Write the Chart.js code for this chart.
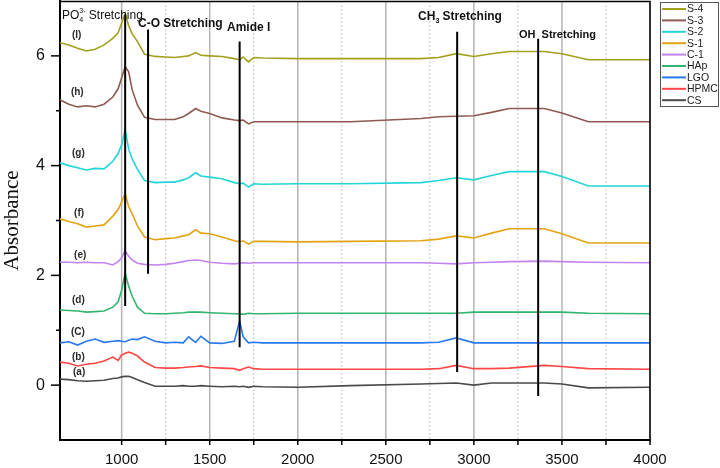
<!DOCTYPE html>
<html>
<head>
<meta charset="utf-8">
<script src="https://cdn.jsdelivr.net/npm/chart.js@4"></script>
<style>
html,body{margin:0;padding:0;background:#fff;}
canvas{display:block;}
</style>
</head>
<body>
<canvas id="c" width="720" height="468"></canvas>
<script>
// Wavenumber grid (cm-1)
const wavenumbers = [650,700,750,800,850,900,950,980,1000,1020,1040,1060,1090,1130,1190,1250,1300,1350,1380,1420,1450,1500,1570,1640,1670,1690,1720,1750,1800,2000,2300,2700,2800,2900,3000,3100,3200,3400,3500,3650,4000];

const seriesNames = ['S-4','S-3','S-2','S-1','C-1','HAp','LGO','HPMC','CS'];
const seriesColors = ['#a3a01e','#8e5a52','#22d6d8','#e2a412','#c184f0','#34b46e','#2a78ee','#ff4646','#4a4a4a'];

const s4   = [6.24,6.20,6.14,6.09,6.12,6.20,6.32,6.42,6.60,6.77,6.55,6.40,6.26,6.03,5.99,5.98,5.97,5.99,6.00,6.06,6.01,6.00,5.99,5.95,5.93,5.98,5.89,5.97,5.96,5.95,5.95,5.95,5.97,6.04,5.99,6.04,6.08,6.08,6.04,5.93,5.93];
const s3   = [5.20,5.12,5.07,5.09,5.07,5.12,5.25,5.40,5.60,5.80,5.71,5.38,5.10,4.88,4.84,4.84,4.84,4.89,4.95,5.04,4.99,4.95,4.87,4.83,4.82,4.83,4.76,4.80,4.80,4.80,4.80,4.86,4.89,4.90,4.91,4.97,5.04,5.04,4.96,4.80,4.80];
const s2   = [4.05,4.00,3.96,3.92,3.95,3.94,4.08,4.22,4.38,4.65,4.30,4.12,3.93,3.73,3.69,3.70,3.70,3.74,3.78,3.87,3.81,3.79,3.76,3.69,3.67,3.68,3.61,3.67,3.66,3.67,3.67,3.69,3.73,3.78,3.74,3.82,3.89,3.89,3.80,3.63,3.63];
const s1   = [3.03,2.98,2.94,2.88,2.90,2.92,3.08,3.20,3.34,3.49,3.25,3.12,2.90,2.70,2.65,2.67,2.68,2.72,2.74,2.83,2.77,2.76,2.70,2.63,2.61,2.63,2.57,2.62,2.62,2.61,2.62,2.63,2.66,2.72,2.68,2.77,2.85,2.85,2.76,2.59,2.59];
const c1   = [2.24,2.24,2.23,2.24,2.23,2.23,2.19,2.25,2.32,2.45,2.35,2.28,2.22,2.20,2.19,2.20,2.22,2.25,2.27,2.28,2.27,2.24,2.22,2.21,2.22,2.23,2.22,2.23,2.23,2.23,2.23,2.23,2.22,2.21,2.23,2.24,2.25,2.26,2.25,2.24,2.23];
const hap  = [1.37,1.36,1.35,1.33,1.34,1.35,1.42,1.52,1.73,2.04,1.80,1.62,1.42,1.31,1.30,1.30,1.31,1.32,1.33,1.33,1.33,1.32,1.31,1.30,1.30,1.29,1.31,1.30,1.30,1.31,1.31,1.31,1.31,1.31,1.33,1.33,1.33,1.33,1.33,1.31,1.30];
const lgo  = [0.77,0.79,0.73,0.80,0.84,0.78,0.80,0.81,0.80,0.79,0.82,0.84,0.83,0.88,0.80,0.77,0.78,0.77,0.88,0.78,0.89,0.77,0.76,0.80,1.17,0.88,0.77,0.78,0.77,0.77,0.77,0.77,0.78,0.86,0.77,0.77,0.77,0.77,0.77,0.77,0.77];
const hpmc = [0.42,0.40,0.35,0.38,0.40,0.44,0.51,0.45,0.55,0.58,0.60,0.58,0.53,0.42,0.32,0.31,0.31,0.32,0.33,0.34,0.35,0.32,0.31,0.30,0.27,0.30,0.33,0.30,0.29,0.29,0.29,0.29,0.30,0.36,0.30,0.30,0.31,0.36,0.34,0.30,0.29];
const cs   = [0.11,0.10,0.08,0.07,0.08,0.09,0.12,0.13,0.15,0.16,0.16,0.14,0.10,0.05,-0.02,-0.02,-0.02,-0.01,-0.02,-0.02,-0.01,-0.02,-0.03,-0.02,-0.03,-0.02,-0.04,-0.02,-0.03,-0.04,-0.01,0.02,0.03,0.04,0.00,0.04,0.04,0.04,0.02,-0.05,-0.04];
const seriesValues = [s4,s3,s2,s1,c1,hap,lgo,hpmc,cs];

// Band marker lines
const markerX      = [1020, 1150, 1670, 2905, 3365];
const markerTop    = [6.75, 6.48, 6.26, 6.44, 6.31];
const markerBottom = [1.44, 2.03, 0.69, 0.24, -0.20];

// Curve tags
const tagText = ['(I)','(h)','(g)','(f)','(e)','(d)','(C)','(b)','(a)'];
const tagX    = [718, 712, 718, 730, 730, 718, 712, 718, 724];
const tagY    = [6.37, 5.33, 4.23, 3.14, 2.37, 1.55, 0.97, 0.51, 0.24];

const xTickLabels = [1000,1500,2000,2500,3000,3500,4000];
const yTickLabels = [0,2,4,6];

const datasets = [];
markerX.forEach((x,i)=>{
  datasets.push({label:'marker'+i, data:[{x:x,y:markerTop[i]},{x:x,y:markerBottom[i]}],
    borderColor:'#000', borderWidth:2, pointRadius:0, isMarker:true});
});
seriesNames.forEach((n,k)=>{
  datasets.push({label:n, data:wavenumbers.map((x,i)=>({x:x,y:seriesValues[k][i]})),
    borderColor:seriesColors[k], borderWidth:1.6, pointRadius:0, tension:0});
});

const SANS = '"Liberation Sans", Arial, sans-serif';

const decor = {
  id:'decor',
  beforeDatasetsDraw(chart){
    const {ctx, chartArea:a, scales:{x}} = chart;
    ctx.save();
    x.ticks.forEach(t=>{
      const px = x.getPixelForValue(t.value);
      if (px <= a.left+1 || px >= a.right-1) return;
      ctx.beginPath();
      if (t.value % 500 === 0){ ctx.strokeStyle='#b4b4b4'; ctx.lineWidth=1.5; ctx.setLineDash([]); }
      else { ctx.strokeStyle='#c8c8c8'; ctx.lineWidth=1; ctx.setLineDash([2,2]); }
      ctx.moveTo(px, a.top); ctx.lineTo(px, a.bottom-1); ctx.stroke();
    });
    ctx.restore();
  },
  afterDraw(chart){
    const {ctx, chartArea:a, scales:{x,y}} = chart;
    ctx.save();
    // frame top/right
    ctx.strokeStyle='#000'; ctx.lineWidth=1.6; ctx.setLineDash([]);
    ctx.beginPath(); ctx.moveTo(a.left, a.top+0.5); ctx.lineTo(a.right, a.top+0.5); ctx.lineTo(a.right, a.bottom); ctx.stroke();
    // tick marks
    ctx.lineWidth=1.5;
    x.ticks.forEach(t=>{
      const px = x.getPixelForValue(t.value);
      if (px < a.left+2) return;
      ctx.beginPath(); ctx.moveTo(px, a.bottom); ctx.lineTo(px, a.bottom+5); ctx.stroke();
    });
    y.ticks.forEach(t=>{
      if (t.value < 0 || t.value > 6) return;
      const py = y.getPixelForValue(t.value);
      const len = (t.value % 2 === 0) ? 9 : 4;
      ctx.beginPath(); ctx.moveTo(a.left, py); ctx.lineTo(a.left-len, py); ctx.stroke();
    });
    // annotation text
    ctx.fillStyle='#111';
    ctx.textBaseline='alphabetic';
    ctx.textAlign='left';
    function run(parts, x0, ybase){
      let cx = x0;
      parts.forEach(p=>{
        ctx.font = p.font;
        ctx.fillText(p.t, cx, ybase + (p.dy||0));
        if (!p.noAdvance) cx += ctx.measureText(p.t).width;
      });
    }
    let px = x.getPixelForValue(661), py = y.getPixelForValue(6.75);
    run([{t:'PO',font:'12px '+SANS},{t:'4',font:'7px '+SANS,dy:3,noAdvance:true},{t:'3-',font:'7px '+SANS,dy:-6},{t:' Stretching',font:'12px '+SANS}], px, py+4);
    ctx.textBaseline='middle';
    ctx.font='bold 12px '+SANS;
    ctx.fillText('C-O Stretching', x.getPixelForValue(1093), y.getPixelForValue(6.59));
    ctx.fillText('Amide I', x.getPixelForValue(1598), y.getPixelForValue(6.51));
    ctx.font='bold 11px '+SANS;
    ctx.fillText('OH  Stretching', x.getPixelForValue(3256), y.getPixelForValue(6.39));
    ctx.textBaseline='alphabetic';
    px = x.getPixelForValue(2683); py = y.getPixelForValue(6.73);
    run([{t:'CH',font:'bold 12px '+SANS},{t:'3',font:'bold 7px '+SANS,dy:3},{t:' Stretching',font:'bold 12px '+SANS}], px, py+4);
    // curve tags
    ctx.textBaseline='middle';
    ctx.font='bold 10px '+SANS;
    ctx.fillStyle='#2a2a2a';
    tagText.forEach((t,i)=>ctx.fillText(t, x.getPixelForValue(tagX[i]), y.getPixelForValue(tagY[i])));
    // legend
    const lx=660, ly=2, lw=58, lh=104;
    ctx.strokeStyle='#555'; ctx.lineWidth=1;
    ctx.strokeRect(lx+0.5, ly+0.5, lw, lh);
    ctx.font='10.5px '+SANS;
    ctx.fillStyle='#222';
    chart.data.datasets.filter(d=>!d.isMarker).forEach((d,i)=>{
      const yy = ly + 7 + i*11.4;
      ctx.strokeStyle=d.borderColor; ctx.lineWidth=2;
      ctx.beginPath(); ctx.moveTo(lx+2, yy); ctx.lineTo(lx+26, yy); ctx.stroke();
      ctx.fillText(d.label, lx+27, yy+0.5);
    });
    ctx.restore();
  }
};

new Chart(document.getElementById('c'), {
  type:'line',
  data:{datasets},
  options:{
    responsive:false,
    animation:false,
    devicePixelRatio:1,
    layout:{padding:{top:1,right:70,left:0,bottom:0}},
    plugins:{legend:{display:false}, tooltip:{enabled:false}},
    elements:{line:{borderCapStyle:'butt'}},
    scales:{
      x:{type:'linear', min:650, max:4000,
        afterFit(s){ s.height = 28; s.paddingLeft = 0; s.paddingRight = 0; },
        afterBuildTicks(s){ s.ticks = s.ticks.filter(t=>t.value % 250 === 0); },
        ticks:{stepSize:250, autoSkip:false, maxRotation:0, padding:6,
          font:{family:SANS, size:15}, color:'#111',
          callback:(v)=> xTickLabels.includes(v) ? String(v) : ''},
        grid:{display:true, drawOnChartArea:false, drawTicks:true, tickLength:5, tickColor:'rgba(0,0,0,0)'},
        border:{display:true, color:'#000', width:2}
      },
      y:{type:'linear', min:-1, max:7,
        afterFit(s){ s.width = 60; s.paddingTop = 0; s.paddingBottom = 0; },
        ticks:{stepSize:1, autoSkip:false, padding:6,
          font:{family:SANS, size:16}, color:'#111',
          callback:(v)=> yTickLabels.includes(v) ? String(v) : ''},
        grid:{display:true, drawOnChartArea:false, drawTicks:true, tickLength:9, tickColor:'rgba(0,0,0,0)'},
        border:{display:true, color:'#000', width:2},
        title:{display:true, text:'Absorbance', color:'#111',
          font:{family:'"Liberation Serif", "Times New Roman", serif', size:21}, padding:0}
      }
    }
  },
  plugins:[decor]
});
</script>
</body>
</html>
